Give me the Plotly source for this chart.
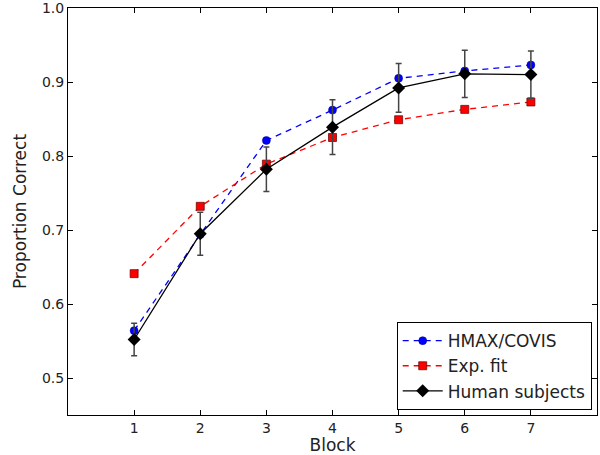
import plotly.graph_objects as go

blocks = [1, 2, 3, 4, 5, 6, 7]
hmax_covis = [0.564, 0.694, 0.821, 0.862, 0.905, 0.915, 0.923]
exp_fit = [0.641, 0.732, 0.789, 0.825, 0.849, 0.863, 0.873]
human = [0.552, 0.695, 0.782, 0.839, 0.892, 0.911, 0.910]
human_err = [0.022, 0.029, 0.030, 0.037, 0.033, 0.032, 0.032]
y_ticks = [0.5, 0.6, 0.7, 0.8, 0.9, 1.0]
y_ticklabels = ["0.5", "0.6", "0.7", "0.8", "0.9", "1.0"]

fig = go.Figure()
fig.add_trace(go.Scatter(
    x=blocks, y=hmax_covis, name="HMAX/COVIS", mode="lines+markers",
    line=dict(color="#0000ff", width=1.3, dash="6px,5px"),
    marker=dict(symbol="circle", size=8, color="#0000ff", line=dict(color="#000080", width=0.5)),
))
fig.add_trace(go.Scatter(
    x=blocks, y=exp_fit, name="Exp. fit", mode="lines+markers",
    line=dict(color="#ff0000", width=1.3, dash="6px,5px"),
    marker=dict(symbol="square", size=8, color="#ff0000", line=dict(color="#600000", width=0.7)),
))
fig.add_trace(go.Scatter(
    x=blocks, y=human, name="Human subjects", mode="lines+markers",
    line=dict(color="#000000", width=1.3),
    marker=dict(symbol="diamond", size=10, color="#000000"),
    error_y=dict(type="data", array=human_err, visible=True, color="#444444", thickness=1.5, width=3),
))

axis_common = dict(
    showline=True, linecolor="#000000", linewidth=1, mirror="ticks",
    ticks="inside", ticklen=5, tickcolor="#000000", tickwidth=1,
    showgrid=False, zeroline=False, automargin=False,
    ticklabeloverflow="allow",
    tickfont=dict(family="DejaVu Sans", size=14, color="#222222"),
)
fig.update_xaxes(range=[0, 8], tickvals=blocks,
                 title=dict(text="Block", font=dict(family="DejaVu Sans", size=17, color="#222222"), standoff=2),
                 **axis_common)
fig.update_yaxes(range=[0.45, 1.0], tickvals=y_ticks, ticktext=y_ticklabels,
                 title=dict(text="Proportion Correct", font=dict(family="DejaVu Sans", size=17, color="#222222"), standoff=10),
                 **axis_common)

fig.update_layout(
    width=600, height=455,
    margin=dict(l=68, r=3, t=8, b=40, autoexpand=False),
    paper_bgcolor="white", plot_bgcolor="white",
    font=dict(family="DejaVu Sans"),
    showlegend=True,
    legend=dict(
        x=0.99, y=0.012, xanchor="right", yanchor="bottom",
        bgcolor="white", bordercolor="#000000", borderwidth=1,
        font=dict(family="DejaVu Sans", size=17, color="#222222"),
        tracegroupgap=2, itemwidth=40,
    ),
)

fig.write_html("out.html", config={"displayModeBar": False},
               post_script="document.body.style.margin='0';")
